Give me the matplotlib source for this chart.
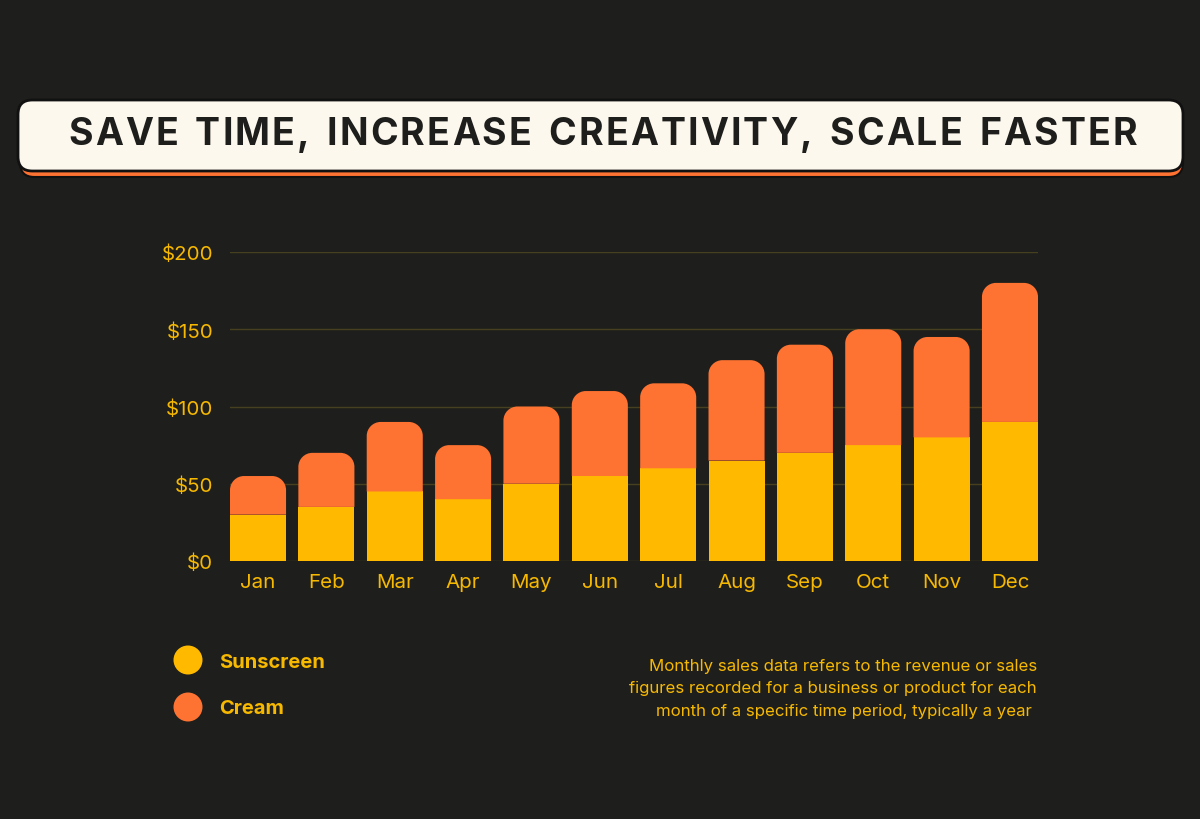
import matplotlib
matplotlib.use("Agg")
import matplotlib.pyplot as plt
from matplotlib.path import Path
from matplotlib.patches import PathPatch, FancyBboxPatch, Ellipse

months = ["Jan", "Feb", "Mar", "Apr", "May", "Jun", "Jul", "Aug", "Sep", "Oct", "Nov", "Dec"]
sunscreen = [30, 35, 45, 40, 50, 55, 60, 65, 70, 75, 80, 90]
cream = [25, 35, 45, 35, 50, 55, 55, 65, 70, 75, 65, 90]
yticks = [0, 50, 100, 150, 200]
ytick_labels = ["$0", "$50", "$100", "$150", "$200"]

BG = "#1e1f1c"
YEL = "#ffba00"
ORG = "#fe7232"
TXT = "#f7b800"
GRID = "#463f20"

plt.rcParams['font.family'] = ['Inter', 'DejaVu Sans']

W, H, DPI = 12, 8.2, 100
fig = plt.figure(figsize=(W, H), dpi=DPI, facecolor=BG)

# axes placement (pixel based)
L, R, B, T = 230, 1038, 562, 253
ax = fig.add_axes([L / 1200, 1 - B / 820, (R - L) / 1200, (B - T) / 820])
ax.set_facecolor(BG)
width = 0.82
ax.set_xlim(-width / 2, len(months) - 1 + width / 2)
ax.set_ylim(0, 200)

x = list(range(len(months)))
ax.bar(x, sunscreen, width=width, color=YEL, zorder=3, linewidth=0)

# rounded-top bars for cream
px_x = (R - L) / (ax.get_xlim()[1] - ax.get_xlim()[0])
px_y = (B - T) / 200.0
rad = 14
rx, ry = rad / px_x, rad / px_y
k = 0.5523
for xi, s, c in zip(x, sunscreen, cream):
    x0, x1 = xi - width / 2, xi + width / 2
    y0, y1 = s, s + c
    verts = [
        (x0, y0), (x0, y1 - ry),
        (x0, y1 - ry + k * ry), (x0 + rx - k * rx, y1), (x0 + rx, y1),
        (x1 - rx, y1),
        (x1 - rx + k * rx, y1), (x1, y1 - ry + k * ry), (x1, y1 - ry),
        (x1, y0), (x0, y0),
    ]
    codes = [Path.MOVETO, Path.LINETO,
             Path.CURVE4, Path.CURVE4, Path.CURVE4,
             Path.LINETO,
             Path.CURVE4, Path.CURVE4, Path.CURVE4,
             Path.LINETO, Path.CLOSEPOLY]
    ax.add_patch(PathPatch(Path(verts, codes), facecolor=ORG, edgecolor="none", zorder=3))

ax.set_yticks(yticks)
ax.set_yticklabels(ytick_labels)
ax.set_xticks(x)
ax.set_xticklabels(months)
ax.tick_params(axis="both", length=0, colors=TXT, labelsize=14.8)
ax.tick_params(axis="y", pad=12)
ax.tick_params(axis="x", pad=8.5)
ax.grid(axis="y", color=GRID, linewidth=1, zorder=0)
for sp in ax.spines.values():
    sp.set_visible(False)

# title box
shadow = FancyBboxPatch((20 / 1200, 1 - 178 / 820), 1163 / 1200, 70 / 820,
                        boxstyle="round,pad=0,rounding_size=0.012",
                        transform=fig.transFigure, facecolor=ORG, edgecolor="#111111",
                        linewidth=1.5, mutation_aspect=1200 / 820)
fig.patches.append(shadow)
box = FancyBboxPatch((18 / 1200, 1 - 172 / 820), 1165 / 1200, 71 / 820,
                     boxstyle="round,pad=0,rounding_size=0.012",
                     transform=fig.transFigure, facecolor="#fdf8ee", edgecolor="#111111",
                     linewidth=2, mutation_aspect=1200 / 820)
fig.patches.append(box)

title = "SAVE TIME, INCREASE CREATIVITY, SCALE FASTER"
fig.canvas.draw()
renderer = fig.canvas.get_renderer()
fs = 27
widths = []
for ch in title:
    t = fig.text(0, 0, ch if ch != " " else "I", fontsize=fs, fontweight="bold")
    bb = t.get_window_extent(renderer)
    widths.append(bb.width if ch != " " else bb.width * 1.2)
    t.remove()
target_left, target_right = 68, 1137
total = sum(widths)
track = (target_right - target_left - total) / (len(title) - 1)
xpos = target_left
for ch, w in zip(title, widths):
    fig.text(xpos / 1200, 1 - 135 / 820, ch, fontsize=fs, fontweight="bold",
             color="#1e1f1c", ha="left", va="center")
    xpos += w + track

# legend
for yy, col, lab in [(661, YEL, "Sunscreen"), (708, ORG, "Cream")]:
    fig.patches.append(Ellipse((188 / 1200, 1 - yy / 820), 29 / 1200, 29 / 820,
                               transform=fig.transFigure, facecolor=col, edgecolor="none"))
    fig.text(219 / 1200, 1 - (yy + 1.5) / 820, lab, fontsize=14.5, fontweight="bold", color=TXT,
             ha="left", va="center")

note = ("Monthly sales data refers to the revenue or sales\n"
        "figures recorded for a business or product for each\n"
        "month of a specific time period, typically a year ")
fig.text(1037 / 1200, 1 - 689 / 820, note, fontsize=12.1, color=TXT, ha="right", va="center",
         multialignment="right", linespacing=1.62)

fig.savefig("out.png", dpi=DPI, facecolor=BG)
